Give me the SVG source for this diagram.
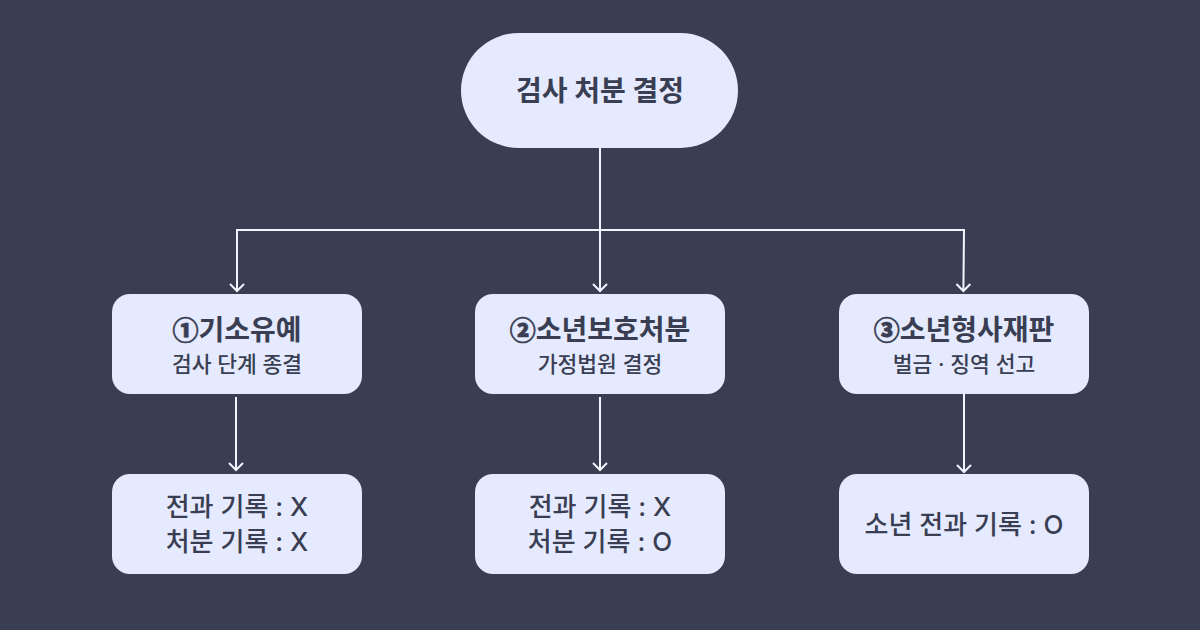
<svg xmlns="http://www.w3.org/2000/svg" width="1200" height="630" viewBox="0 0 1200 630">
<style>
.n{fill:#e5eafe}
text{font-family:"Inter","Noto Sans CJK KR","Noto Sans",sans-serif;fill:#393e53;text-anchor:middle}
.r{font-size:28px;font-weight:700}
.t{font-size:28px;font-weight:700}
.g{font-family:"Noto Sans CJK KR",sans-serif;font-weight:900;stroke:#393e53;stroke-width:.7}
.s{font-size:21.5px;font-weight:500}
.b{font-size:26px;font-weight:500}
.c{fill:none;stroke:#f2f4ff;stroke-width:2}
</style>
<rect width="1200" height="630" fill="#393e53"/>
<g id="connectors" class="c">
<path d="M600 148V290M237 290V230H964L963.4 290M236 397V470M600 397V470M964 393V472"/>
<path d="M230 284L237 291L244 284M593 284L600 291L607 284M956.4 284L963.4 291L970.4 284M229 463L236 470L243 463M593 463L600 470L607 463M957 465L964 472L971 465"/>
</g>
<g id="root"><rect class="n" x="461" y="33" width="277" height="115" rx="57.5"/><text class="r" x="600" y="101">검사 처분 결정</text></g>
<g id="n1"><rect class="n" x="112" y="294" width="250" height="100" rx="18"/><text class="t" x="237" y="340"><tspan class="g" font-size="26">①</tspan>기소유예</text><text class="s" x="237" y="372">검사 단계 종결</text></g>
<g id="n2"><rect class="n" x="475" y="294" width="250" height="100" rx="18"/><text class="t" x="600" y="340"><tspan class="g" font-size="26">②</tspan>소년보호처분</text><text class="s" x="600" y="372">가정법원 결정</text></g>
<g id="n3"><rect class="n" x="839" y="294" width="250" height="100" rx="18"/><text class="t" x="964" y="340"><tspan class="g" font-size="26">③</tspan>소년형사재판</text><text class="s" x="964" y="372">벌금 · 징역 선고</text></g>
<g id="r1"><rect class="n" x="112" y="474" width="250" height="100" rx="18"/><text class="b" x="237" y="516">전과 기록 : X</text><text class="b" x="237" y="551">처분 기록 : X</text></g>
<g id="r2"><rect class="n" x="475" y="474" width="250" height="100" rx="18"/><text class="b" x="600" y="516">전과 기록 : X</text><text class="b" x="600" y="551">처분 기록 : O</text></g>
<g id="r3"><rect class="n" x="839" y="474" width="250" height="100" rx="18"/><text class="b" x="964" y="534">소년 전과 기록 : O</text></g>
</svg>
